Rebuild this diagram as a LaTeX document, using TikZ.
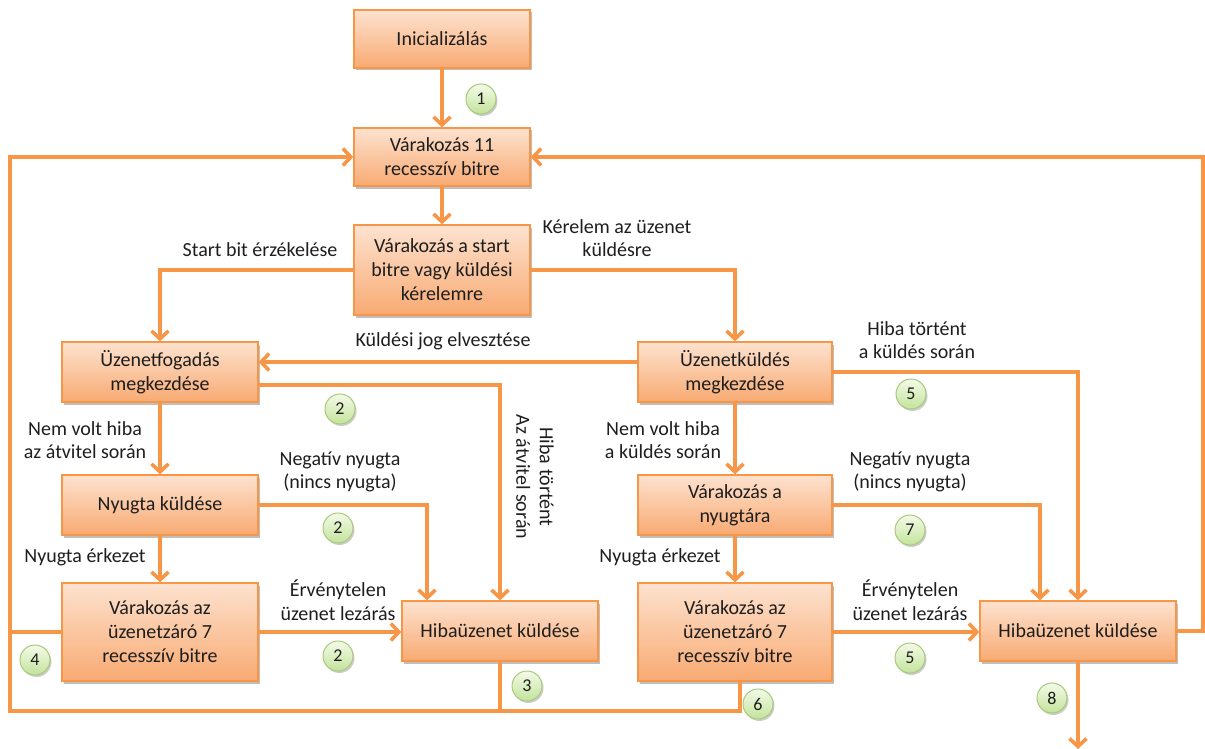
\documentclass[tikz,border=0pt]{standalone}
\usepackage{fontspec}
\setmainfont{Carlito}
\usetikzlibrary{arrows.meta,shadows,calc}
\definecolor{lineor}{HTML}{F79646}
\definecolor{boxtop}{HTML}{FDE2CF}
\definecolor{boxbot}{HTML}{F8AA72}
\definecolor{nrtop}{HTML}{F4FAE8}
\definecolor{nrbot}{HTML}{C3E39B}
\definecolor{nredge}{HTML}{A8C97A}
\definecolor{txt}{HTML}{1E1E1E}
\tikzset{
  state/.style={rectangle, draw=lineor, line width=1.3pt,
    top color=boxtop, bottom color=boxbot, text=txt,
    align=center, minimum width=196pt, minimum height=60pt,
    inner sep=2pt, font=\fontsize{20}{24}\selectfont,
    drop shadow={shadow xshift=2pt, shadow yshift=-2.5pt, opacity=0.25, fill=black}},
  lbl/.style={align=center, text=txt, font=\fontsize{20}{23.5}\selectfont, inner sep=1pt},
  nr/.style={circle, draw=nredge, line width=1pt, top color=nrtop, bottom color=nrbot,
    minimum size=30pt, inner sep=0pt, text=txt, font=\fontsize{18}{18}\selectfont,
    drop shadow={shadow xshift=1.5pt, shadow yshift=-2pt, opacity=0.2, fill=black}},
  flow/.style={draw=lineor, line width=3.6pt},
  >={Straight Barb[length=8pt,width=17pt,line width=3.6pt]}
}
\begin{document}
\begin{tikzpicture}[x=1pt,y=-1pt]
\useasboundingbox (0,0) rectangle (1205,749);

% states
\node[state, minimum width=176pt, minimum height=58pt] (init) at (442,39) {Inicializálás};
\node[state, minimum width=176pt, minimum height=58pt] (wait) at (442,157) {Várakozás 11\\recesszív bitre};
\node[state, minimum width=176pt, minimum height=90pt] (start) at (442,270) {Várakozás a start\\bitre vagy küldési\\kérelemre};
\node[state] (recv) at (160,372) {Üzenetfogadás\\megkezdése};
\node[state, minimum width=194pt] (send) at (735,372) {Üzenetküldés\\megkezdése};
\node[state] (ack) at (160,505) {Nyugta küldése};
\node[state, minimum width=194pt] (wack) at (735,505) {Várakozás a\\nyugtára};
\node[state, minimum height=98pt] (eofL) at (160,632) {Várakozás az\\üzenetzáró 7\\recesszív bitre};
\node[state] (errL) at (500,631) {Hibaüzenet küldése};
\node[state, minimum width=194pt, minimum height=98pt] (eofR) at (735,632) {Várakozás az\\üzenetzáró 7\\recesszív bitre};
\node[state] (errR) at (1078,631) {Hibaüzenet küldése};

% loop-back corners and exit
\coordinate (lb) at (10,711);
\coordinate (rb) at (1203,157);
\coordinate (exit) at (1078,749);

% connectors
\draw[flow,->] (init) -- (wait);
\draw[flow,->] (wait) -- (start);
\draw[flow,->] (start.west) -| (recv.north);
\draw[flow,->] (start.east) -| (send.north);
\draw[flow,->] ([yshift=10pt]send.west) -- ([yshift=10pt]recv.east);
\draw[flow,->] ([yshift=-13pt]recv.east) -| (errL.north);
\draw[flow,->] (recv) -- (ack);
\draw[flow,->] (ack.east) -| ([xshift=-73pt]errL.north);
\draw[flow,->] (ack) -- (eofL);
\draw[flow,->] (eofL.east) -- (errL.west |- eofL.east);
\draw[flow,->] (errL.south) |- (lb) |- (wait.west);
\draw[flow] (eofL.west) -- (eofL.west -| lb);
\draw[flow] ([xshift=5pt]eofR.south) |- (errL.south |- lb);
\draw[flow,->] (send.east) -| (errR.north);
\draw[flow,->] (wack.east) -| ([xshift=-38pt]errR.north);
\draw[flow,->] (send) -- (wack);
\draw[flow,->] (wack) -- (eofR);
\draw[flow,->] (eofR.east) -- (errR.west |- eofR.east);
\draw[flow,->] (errR.east) -| (rb) -- (wait.east);
\draw[flow,->] (errR.south) -- (exit);

% transition labels
\node[lbl] (l1) at (260,250) {Start bit érzékelése};
\node[lbl] (l2) at (617,238) {Kérelem az üzenet\\küldésre};
\node[lbl] (l3) at (443,341) {Küldési jog elvesztése};
\node[lbl] (l4) at (917,340) {Hiba történt\\a küldés során};
\node[lbl] (l5) at (85,440) {Nem volt hiba\\az átvitel során};
\node[lbl] (l6) at (340,472) {Negatív nyugta\\(nincs nyugta)};
\node[lbl] (l7) at (663,440) {Nem volt hiba\\a küldés során};
\node[lbl] (l8) at (910,472) {Negatív nyugta\\(nincs nyugta)};
\node[lbl] (l9) at (85,557) {Nyugta érkezet};
\node[lbl] (l10) at (660,557) {Nyugta érkezet};
\node[lbl] (l11) at (338,600) {Érvénytelen\\üzenet lezárás};
\node[lbl] (l12) at (910,600) {Érvénytelen\\üzenet lezárás};
\node[lbl, rotate=-90] (l13) at (535,477) {Hiba történt\\Az átvitel során};

% numbered markers
\node[nr] (n1) at (481,99) {1};
\node[nr] (n2a) at (340,409) {2};
\node[nr] (n2b) at (338,528) {2};
\node[nr] (n2c) at (338,656) {2};
\node[nr] (n3) at (527,686) {3};
\node[nr] (n4) at (35,660) {4};
\node[nr] (n5a) at (911,394) {5};
\node[nr] (n7) at (910,530) {7};
\node[nr] (n5b) at (910,658) {5};
\node[nr] (n6) at (758,704) {6};
\node[nr] (n8) at (1052,698) {8};
\end{tikzpicture}
\end{document}
